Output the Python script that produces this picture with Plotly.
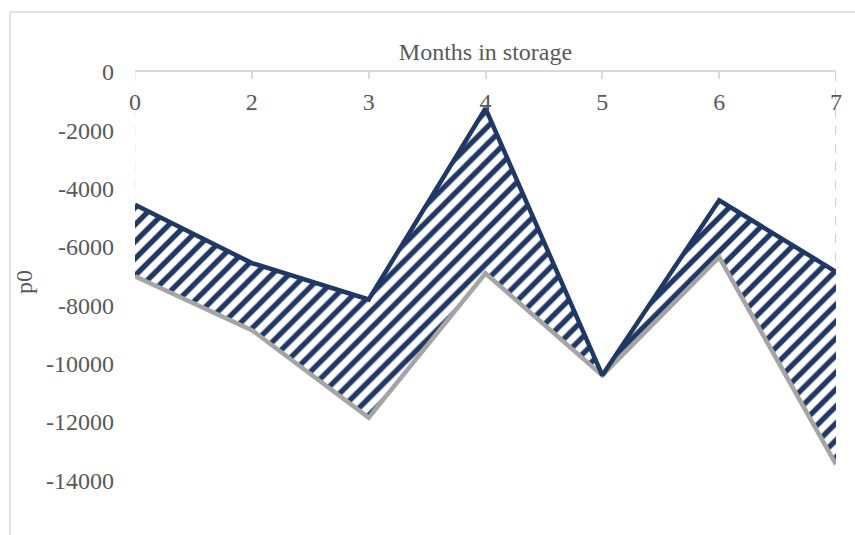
import plotly.graph_objects as go

# Months in storage (category axis) and the two p0 series
months = ["0", "2", "3", "4", "5", "6", "7"]
p0_upper = [-4550, -6550, -7800, -1250, -10400, -4400, -6850]
p0_lower = [-7000, -8850, -11850, -6900, -10400, -6350, -13450]
y_ticks = [0, -2000, -4000, -6000, -8000, -10000, -12000, -14000]

NAVY = "#203864"
GREY = "#A5A5A5"
TEXT = "#595959"
AXIS = "#D9D9D9"
FONT = "Liberation Serif, Times New Roman, serif"

fig = go.Figure()

# faint dashed drop lines at the first and last month
fig.add_trace(go.Scatter(
    x=[months[0], months[0]], y=[0, p0_lower[0]], mode="lines",
    line=dict(color="#EEEEEE", width=1.5, dash="dash"),
    cliponaxis=False, hoverinfo="skip"))
fig.add_trace(go.Scatter(
    x=[months[-1], months[-1]], y=[0, p0_lower[-1]], mode="lines",
    line=dict(color="#B8BEC8", width=1.5, dash="dash"),
    cliponaxis=False, hoverinfo="skip"))

# lower bound
fig.add_trace(go.Scatter(
    x=months, y=p0_lower, mode="lines",
    line=dict(color=GREY, width=4.5), name="lower"))

# upper bound, hatched band down to the lower bound
fig.add_trace(go.Scatter(
    x=months, y=p0_upper, mode="lines",
    line=dict(color=NAVY, width=4.5), name="upper",
    fill="tonexty", fillcolor="white",
    fillpattern=dict(shape="/", fgcolor=NAVY, bgcolor="white",
                     size=12, solidity=0.45, fillmode="replace")))

fig.update_layout(
    width=855, height=535,
    margin=dict(l=135, r=19, t=72, b=42.5),
    paper_bgcolor="white", plot_bgcolor="white",
    showlegend=False,
    font=dict(family=FONT, size=24, color=TEXT),
    xaxis=dict(
        type="category", categoryorder="array", categoryarray=months,
        side="top", range=[0, len(months) - 1],
        showline=True, linecolor=AXIS, linewidth=1.5,
        ticks="inside", ticklen=7, tickcolor=AXIS, tickwidth=1.5,
        ticklabelposition="inside", ticklabelstandoff=16,
        ticklabeloverflow="allow",
        showgrid=False, zeroline=False,
        tickfont=dict(family=FONT, size=24, color=TEXT),
        title=dict(text="Months in storage", standoff=21,
                   font=dict(family=FONT, size=24, color=TEXT)),
    ),
    yaxis=dict(
        range=[-14400, 0], tickvals=y_ticks,
        ticktext=[str(v) for v in y_ticks],
        showline=False, ticks="", showgrid=False, zeroline=False,
        ticklabelstandoff=20, ticklabeloverflow="allow",
        tickfont=dict(family=FONT, size=24, color=TEXT),
        title=dict(text="p0", standoff=6,
                   font=dict(family=FONT, size=24, color=TEXT)),
    ),
    shapes=[
        dict(type="rect", xref="paper", yref="paper",
             x0=-0.1783, x1=1.2, y0=-0.3, y1=1.1427,
             line=dict(color=AXIS, width=1.5), layer="below")],
)

fig.write_html("out.html")
